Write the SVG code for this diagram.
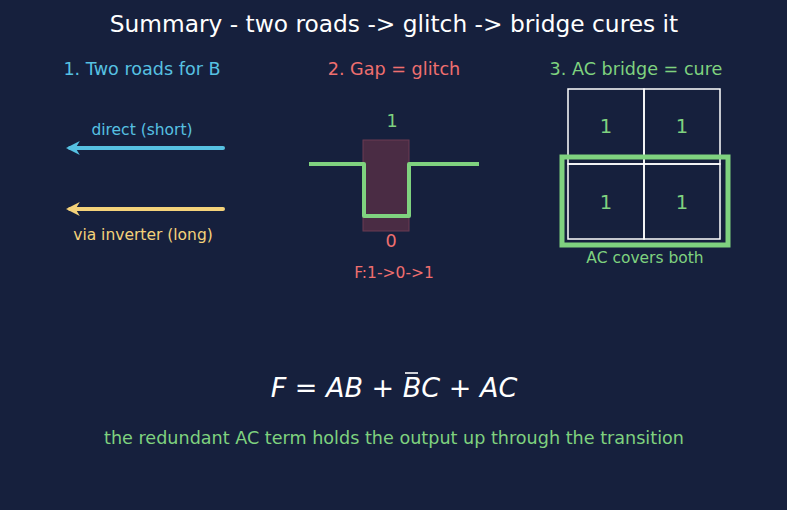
<svg xmlns="http://www.w3.org/2000/svg" width="787" height="510" viewBox="0 0 787 510">
<defs>
<style>
text{font-family:"DejaVu Sans",sans-serif;text-anchor:middle}
.blue{fill:#56c1e2}.yel{fill:#f4d27a}.grn{fill:#7fd27f}.red{fill:#ef6f6f}
.it{font-style:italic}
</style>
<marker id="ab" viewBox="0 0 10 10" refX="7" refY="5" markerWidth="3.5" markerHeight="3.5" orient="auto"><path d="M0,0 L10,5 L0,10 L3,5 Z" fill="#56c1e2"/></marker>
<marker id="ay" viewBox="0 0 10 10" refX="7" refY="5" markerWidth="3.5" markerHeight="3.5" orient="auto"><path d="M0,0 L10,5 L0,10 L3,5 Z" fill="#f4d27a"/></marker>
</defs>
<rect width="787" height="510" fill="#16203d"/>
<text x="394" y="32" font-size="23.3" fill="#ffffff">Summary - two roads -&gt; glitch -&gt; bridge cures it</text>
<g id="panel1">
<text class="blue" x="142" y="75" font-size="17.6">1. Two roads for B</text>
<text class="blue" x="142" y="135" font-size="15.5">direct (short)</text>
<text class="yel" x="143" y="240" font-size="15.5">via inverter (long)</text>
</g>
<g id="connectors">
<line x1="223" y1="148" x2="70" y2="148" stroke="#56c1e2" stroke-width="4" stroke-linecap="round" marker-end="url(#ab)"/>
<line x1="223" y1="209" x2="70" y2="209" stroke="#f4d27a" stroke-width="4" stroke-linecap="round" marker-end="url(#ay)"/>
</g>
<g id="panel2">
<text class="red" x="394" y="75" font-size="17.6">2. Gap = glitch</text>
<rect x="363" y="140" width="46" height="91" fill="#4a2c44" stroke="#6a3a52" stroke-width="1"/>
<path d="M309,164 H364 V216 H409 V164 H479" fill="none" stroke="#7fd27f" stroke-width="4" stroke-linejoin="round"/>
<text class="grn" x="392" y="127" font-size="17.6">1</text>
<text class="red" x="391" y="247" font-size="17.6">0</text>
<text class="red" x="394" y="278" font-size="15.5">F:1-&gt;0-&gt;1</text>
</g>
<g id="panel3">
<text class="grn" x="636" y="75" font-size="17.6">3. AC bridge = cure</text>
<g fill="none" stroke="#ffffff" stroke-width="1.5">
<rect x="568" y="89" width="76" height="75"/>
<rect x="644" y="89" width="76" height="75"/>
<rect x="568" y="164" width="76" height="75"/>
<rect x="644" y="164" width="76" height="75"/>
</g>
<text class="grn" x="606" y="133" font-size="19.5">1</text>
<text class="grn" x="682" y="133" font-size="19.5">1</text>
<text class="grn" x="606" y="209" font-size="19.5">1</text>
<text class="grn" x="682" y="209" font-size="19.5">1</text>
<rect x="562" y="157" width="166" height="88" fill="none" stroke="#7fd27f" stroke-width="5"/>
<text class="grn" x="645" y="263" font-size="15.5">AC covers both</text>
</g>
<g id="formula">
<text x="394" y="397" font-size="27" fill="#ffffff"><tspan class="it">F</tspan> = <tspan class="it">AB</tspan> + <tspan class="it">B</tspan><tspan class="it">C</tspan> + <tspan class="it">AC</tspan></text>
<line x1="405" y1="373" x2="418" y2="373" stroke="#ffffff" stroke-width="1.6"/>
</g>
<text class="grn" x="394" y="444" font-size="17.6">the redundant AC term holds the output up through the transition</text>
</svg>
